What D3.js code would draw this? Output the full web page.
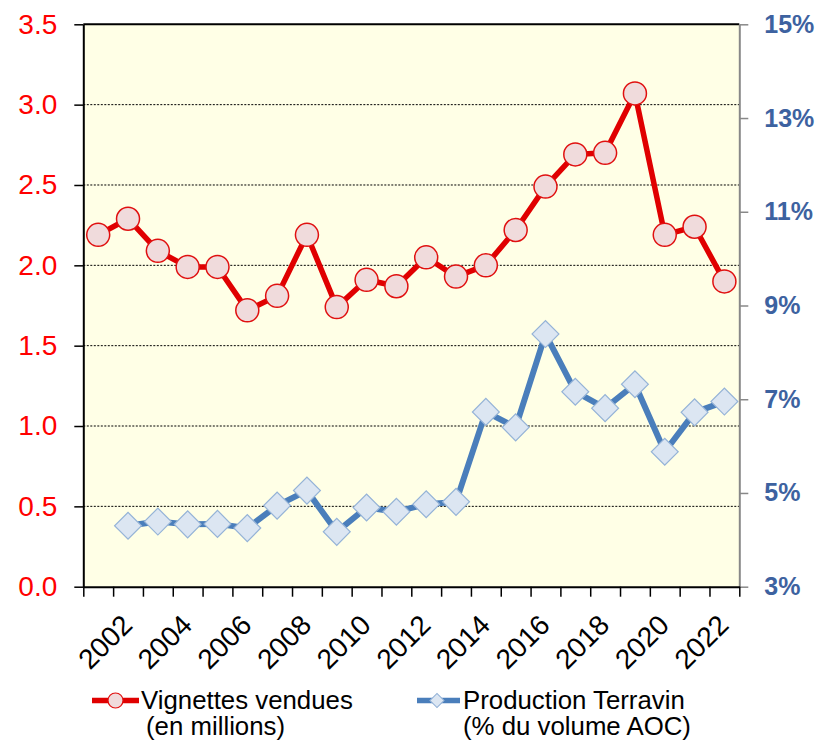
<!doctype html>
<html lang="fr">
  <head>
    <meta charset="utf-8">
    <title>Vignettes vendues et production Terravin</title>
    <script src="https://cdn.jsdelivr.net/npm/d3@7"></script>
    <style>
      body { margin: 0; background: #fff; }
      text { font-family: "Liberation Sans", Arial, sans-serif; }
    </style>
  </head>
  <body>
    <script>
      // données
      const years = [2001, 2002, 2003, 2004, 2005, 2006, 2007, 2008, 2009, 2010, 2011,
                     2012, 2013, 2014, 2015, 2016, 2017, 2018, 2019, 2020, 2021, 2022];
      const vignettes = [2.19, 2.29, 2.09, 1.99, 1.99, 1.72, 1.81, 2.19, 1.74, 1.91, 1.87,
                         2.05, 1.93, 2.00, 2.22, 2.49, 2.69, 2.70, 3.07, 2.19, 2.24, 1.90];
      const production = [null, 4.30, 4.39, 4.33, 4.34, 4.25, 4.73, 5.05, 4.17, 4.69, 4.60,
                          4.76, 4.81, 6.73, 6.40, 8.39, 7.16, 6.81, 7.32, 5.88, 6.72, 6.95];
      const leftTicks = [0, 0.5, 1.0, 1.5, 2.0, 2.5, 3.0, 3.5];
      const rightTicks = [3, 5, 7, 9, 11, 13, 15];
      const labelYears = years.filter(y => y % 2 === 0);

      const w = 826, h = 744;
      const pLeft = 83.3, pRight = 739.3, pTop = 24.3, pBottom = 586.7;

      const svg = d3.select("body").append("svg")
        .attr("width", w)
        .attr("height", h);

      const x = d3.scaleBand().domain(years).range([pLeft, pRight]);
      const xEdges = d3.scaleLinear().domain([0, years.length]).range([pLeft, pRight]);
      const yL = d3.scaleLinear().domain([0, 3.5]).range([pBottom, pTop]);
      const yR = d3.scaleLinear().domain([3, 15]).range([pBottom, pTop]);

      // fond de la zone de tracé
      svg.append("rect")
        .attr("x", pLeft).attr("y", pTop)
        .attr("width", pRight - pLeft).attr("height", pBottom - pTop)
        .attr("fill", "#FFFFE6");

      // quadrillage
      svg.append("g")
        .selectAll("line")
        .data(leftTicks.filter(d => d > 0 && d < 3.5))
        .join("line")
        .attr("x1", pLeft).attr("x2", pRight)
        .attr("y1", d => yL(d)).attr("y2", d => yL(d))
        .attr("stroke", "#000")
        .attr("stroke-width", 1)
        .attr("stroke-dasharray", "2,1.5");

      // bord haut
      svg.append("line")
        .attr("x1", pLeft).attr("x2", pRight)
        .attr("y1", pTop).attr("y2", pTop)
        .attr("stroke", "#000").attr("stroke-width", 2);

      // axe gauche
      const gL = svg.append("g")
        .attr("transform", "translate(" + pLeft + ",0)")
        .call(d3.axisLeft(yL).tickValues(leftTicks).tickFormat(d3.format(".1f"))
          .tickSize(9).tickSizeOuter(0).tickPadding(17));
      gL.select(".domain").attr("stroke", "#000").attr("stroke-width", 2);
      gL.selectAll(".tick line").attr("stroke", "#000").attr("stroke-width", 1.5);
      gL.selectAll(".tick text")
        .attr("fill", "#FF0000")
        .style("font-size", "28px")
        .style("font-family", "'Liberation Sans', Arial, sans-serif");

      // axe droit
      const gR = svg.append("g")
        .attr("transform", "translate(" + pRight + ",0)")
        .call(d3.axisRight(yR).tickValues(rightTicks).tickFormat(d => d + "%")
          .tickSize(9).tickSizeOuter(0).tickPadding(16));
      gR.select(".domain").attr("stroke", "#888").attr("stroke-width", 2);
      gR.selectAll(".tick line").attr("stroke", "#888").attr("stroke-width", 1.5);
      gR.selectAll(".tick text")
        .attr("fill", "#3D62A0")
        .style("font-size", "25px")
        .style("font-weight", "bold")
        .style("font-family", "'Liberation Sans', Arial, sans-serif");

      // axe bas : graduations entre catégories
      const gB = svg.append("g")
        .attr("transform", "translate(0," + pBottom + ")")
        .call(d3.axisBottom(xEdges).tickValues(d3.range(years.length + 1))
          .tickFormat("").tickSize(10).tickSizeOuter(0));
      gB.select(".domain").attr("stroke", "#000").attr("stroke-width", 2);
      gB.selectAll(".tick line").attr("stroke", "#000").attr("stroke-width", 1.5);

      // étiquettes des années
      const gLab = svg.append("g")
        .attr("transform", "translate(0," + pBottom + ")")
        .call(d3.axisBottom(x).tickValues(labelYears).tickSize(0).tickPadding(0));
      gLab.select(".domain").remove();
      gLab.selectAll(".tick text")
        .attr("fill", "#000")
        .attr("text-anchor", "end")
        .attr("dy", 0)
        .attr("y", 0)
        .attr("transform", "translate(6,40) rotate(-45)")
        .style("font-size", "28px")
        .style("font-family", "'Liberation Sans', Arial, sans-serif");

      // séries
      const cx = (d, i) => x(years[i]) + x.bandwidth() / 2;

      const lineRed = d3.line()
        .x((d, i) => cx(d, i))
        .y(d => yL(d));
      const lineBlue = d3.line()
        .defined(d => d !== null)
        .x((d, i) => cx(d, i))
        .y(d => yR(d));

      svg.append("path")
        .datum(production)
        .attr("d", lineBlue)
        .attr("fill", "none")
        .attr("stroke", "#4A7EBB")
        .attr("stroke-width", 6)
        .attr("stroke-linejoin", "round");

      const diamond = d3.symbol().type(d3.symbolSquare).size(19 * 19);
      svg.append("g")
        .selectAll("path")
        .data(production.map((v, i) => ({ v, i })).filter(d => d.v !== null))
        .join("path")
        .attr("d", diamond)
        .attr("transform", d => "translate(" + cx(d.v, d.i) + "," + yR(d.v) + ") rotate(45)")
        .attr("fill", "#DCE6F2")
        .attr("stroke", "#95B3D7")
        .attr("stroke-width", 1.2);

      svg.append("path")
        .datum(vignettes)
        .attr("d", lineRed)
        .attr("fill", "none")
        .attr("stroke", "#E00000")
        .attr("stroke-width", 5.5)
        .attr("stroke-linejoin", "round");

      svg.append("g")
        .selectAll("circle")
        .data(vignettes)
        .join("circle")
        .attr("cx", (d, i) => cx(d, i))
        .attr("cy", d => yL(d))
        .attr("r", 11.5)
        .attr("fill", "#F0DBDC")
        .attr("stroke", "#E01010")
        .attr("stroke-width", 1.5);

      // légende
      const legend = svg.append("g");
      legend.append("line")
        .attr("x1", 92).attr("x2", 139).attr("y1", 700.5).attr("y2", 700.5)
        .attr("stroke", "#E00000").attr("stroke-width", 5.5);
      legend.append("circle")
        .attr("cx", 115.5).attr("cy", 700.5).attr("r", 7.5)
        .attr("fill", "#F0DBDC").attr("stroke", "#E01010").attr("stroke-width", 1.2);
      const t1 = legend.append("text")
        .attr("x", 141).attr("y", 709)
        .attr("fill", "#000")
        .style("font-size", "25.8px");
      t1.append("tspan").attr("x", 141).text("Vignettes vendues");
      t1.append("tspan").attr("x", 146).attr("dy", 26).text("(en millions)");

      legend.append("line")
        .attr("x1", 417).attr("x2", 460).attr("y1", 700.5).attr("y2", 700.5)
        .attr("stroke", "#4A7EBB").attr("stroke-width", 5.5);
      legend.append("path")
        .attr("d", d3.symbol().type(d3.symbolSquare).size(10 * 10))
        .attr("transform", "translate(437,700.5) rotate(45)")
        .attr("fill", "#DCE6F2").attr("stroke", "#95B3D7").attr("stroke-width", 1);
      const t2 = legend.append("text")
        .attr("x", 463).attr("y", 709)
        .attr("fill", "#000")
        .style("font-size", "25.8px");
      t2.append("tspan").attr("x", 463).text("Production Terravin");
      t2.append("tspan").attr("x", 463).attr("dy", 26).text("(% du volume AOC)");
    </script>
  </body>
</html>
